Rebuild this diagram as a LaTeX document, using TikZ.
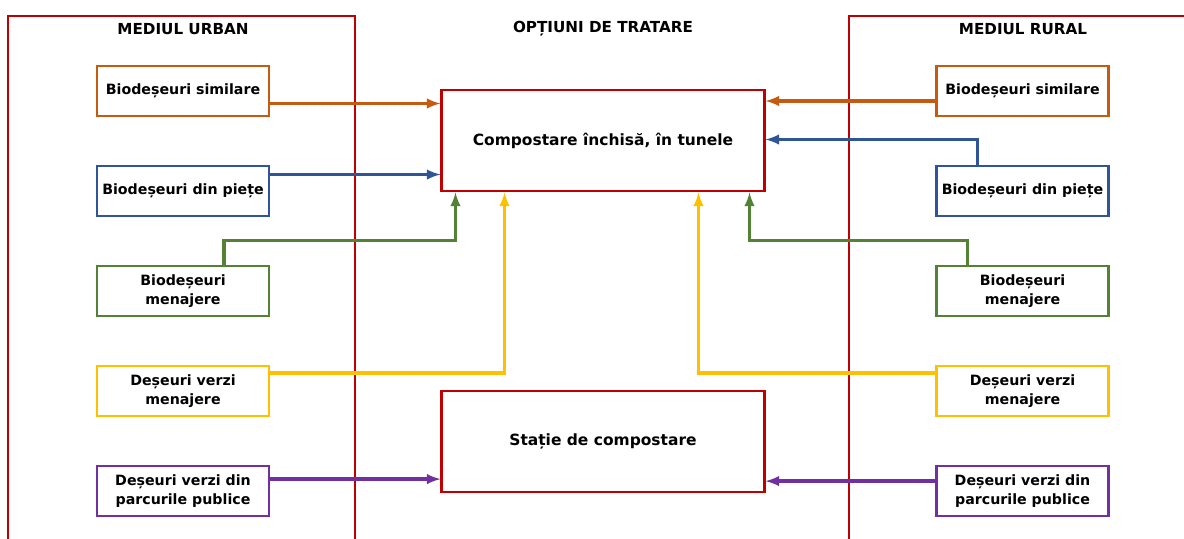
\documentclass[tikz,border=0pt]{standalone}
\usepackage{fontspec}
\setmainfont{DejaVu Sans}
\usetikzlibrary{arrows,calc,positioning}

\definecolor{rosu}{HTML}{C00000}
\definecolor{portocaliu}{HTML}{C55A11}
\definecolor{albastru}{HTML}{2F5597}
\definecolor{verde}{HTML}{548235}
\definecolor{galben}{HTML}{FFC000}
\definecolor{mov}{HTML}{7030A0}

\begin{document}
\begin{tikzpicture}[x=0.025cm, y=-0.025cm, node distance=2.5cm,
  sursa/.style={draw, line width=1.9pt, minimum width=4.3cm, minimum height=1.25cm,
    inner sep=0pt, align=center, font=\fontsize{10.1}{13.2}\selectfont\bfseries},
  optiune/.style={draw=rosu, line width=2.1pt, minimum width=8.05cm, minimum height=2.525cm,
    inner sep=0pt, font=\fontsize{11}{13}\selectfont\bfseries},
  titlu/.style={font=\fontsize{10.8}{13}\selectfont\bfseries},
  flux/.style={line width=2.3pt, -latex}]
 \useasboundingbox (0,0) rectangle (1184,539);
 % cadrele celor doua medii
 \draw[rosu, line width=1.5pt] (8,545) -- (8,16) -- (355,16) -- (355,545);
 \draw[rosu, line width=1.5pt] (849,545) -- (849,16) -- (1195,16);
 \node[titlu] (tu) at (183,29) {MEDIUL URBAN};
 \node[titlu] (to) at (603,29) {OPȚIUNI DE TRATARE};
 \node[titlu] (tr) at (1023,29) {MEDIUL RURAL};
 % optiuni de tratare
 \node[optiune] (b1) at (603,140.5) {Compostare închisă, în tunele};
 \node[optiune] (b2) at (603,441.5) {Stație de compostare};
 % mediul urban
 \node[sursa, draw=portocaliu] (ls) at (183,91) {Biodeșeuri similare};
 \node[sursa, draw=albastru] (lp) [below of=ls] {Biodeșeuri din piețe};
 \node[sursa, draw=verde] (lm) [below of=lp] {Biodeșeuri\\menajere};
 \node[sursa, draw=galben] (ld) [below of=lm] {Deșeuri verzi\\menajere};
 \node[sursa, draw=mov] (lv) [below of=ld] {Deșeuri verzi din\\parcurile publice};
 % mediul rural
 \node[sursa, draw=portocaliu] (rs) at (1022.5,91) {Biodeșeuri similare};
 \node[sursa, draw=albastru] (rp) [below of=rs] {Biodeșeuri din piețe};
 \node[sursa, draw=verde] (rm) [below of=rp] {Biodeșeuri\\menajere};
 \node[sursa, draw=galben] (rd) [below of=rm] {Deșeuri verzi\\menajere};
 \node[sursa, draw=mov] (rv) [below of=rd] {Deșeuri verzi din\\parcurile publice};
 % fluxuri urban
 \draw[flux, portocaliu] ($(ls.east)+(0,12.5)$) -- ($(ls.east -| b1.west)+(0,12.5)$);
 \draw[flux, albastru] ($(lp.east)+(0,-16.5)$) -- ($(lp.east -| b1.west)+(0,-16.5)$);
 \draw[flux, verde] ($(lm.north)+(41,0)$) -- ++(0,-24) -| ($(b1.south west)+(15,0)$);
 \draw[flux, galben] ($(ld.east)+(0,-18)$) -| ($(b1.south west)+(64,0)$);
 \draw[flux, mov] ($(lv.east)+(0,-12)$) -- ($(lv.east -| b2.west)+(0,-12)$);
 % fluxuri rural
 \draw[flux, portocaliu] ($(rs.west)+(0,10)$) -- ($(rs.west -| b1.east)+(0,10)$);
 \draw[flux, albastru] ($(rp.north)+(-45,0)$) |- ($(b1.east)+(0,-1)$);
 \draw[flux, verde] ($(rm.north)+(-55,0)$) -- ++(0,-24) -| ($(b1.south east)+(-16,0)$);
 \draw[flux, galben] ($(rd.west)+(0,-18)$) -| ($(b1.south east)+(-67,0)$);
 \draw[flux, mov] ($(rv.west)+(0,-10)$) -- ($(rv.west -| b2.east)+(0,-10)$);
\end{tikzpicture}
\end{document}
